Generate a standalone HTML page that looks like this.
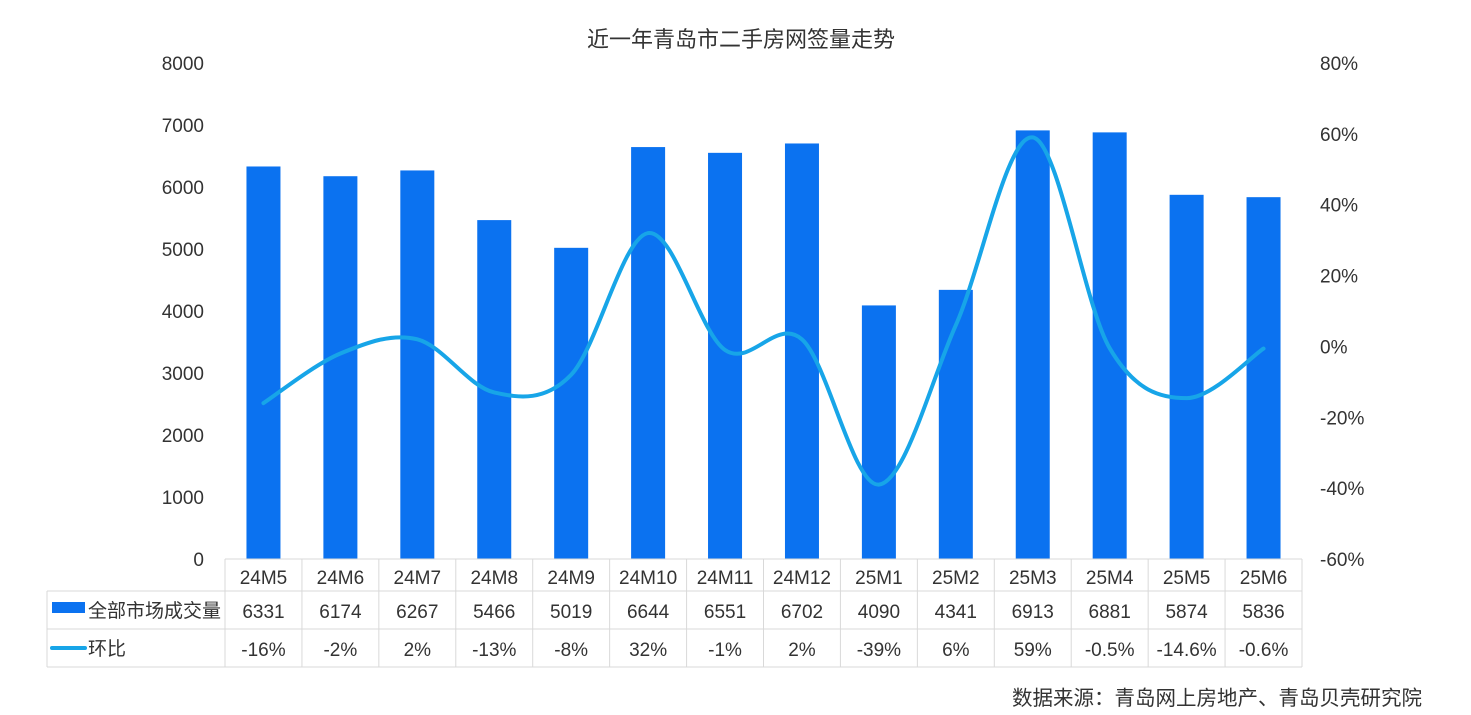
<!DOCTYPE html>
<html><head><meta charset="utf-8"><style>
body{margin:0;background:#fff;width:1471px;height:715px;overflow:hidden;font-family:"Liberation Sans","Noto Sans CJK SC",sans-serif;}
</style></head><body>
<svg id="c" width="1471" height="715" style="position:absolute;left:0;top:0" font-family="Liberation Sans, Noto Sans CJK SC, sans-serif">
<text x="741" y="47" text-anchor="middle" font-size="22" fill="#333">近一年青岛市二手房网签量走势</text>
<text x="1422" y="705" text-anchor="end" font-size="20.5" fill="#333">数据来源：青岛网上房地产、青岛贝壳研究院</text>
</svg>
<script>
const categories=["24M5","24M6","24M7","24M8","24M9","24M10","24M11","24M12","25M1","25M2","25M3","25M4","25M5","25M6"];
const volumes=[6331,6174,6267,5466,5019,6644,6551,6702,4090,4341,6913,6881,5874,5836];
const changes=[-16,-2,2,-13,-8,32,-1,2,-39,6,59,-0.5,-14.6,-0.6];
const changeLabels=["-16%","-2%","2%","-13%","-8%","32%","-1%","2%","-39%","6%","59%","-0.5%","-14.6%","-0.6%"];
const leftTicks=[0,1000,2000,3000,4000,5000,6000,7000,8000];
const rightTicks=[-60,-40,-20,0,20,40,60,80];
const NS="http://www.w3.org/2000/svg";
const svg=document.getElementById('c');
const X0=225,X1=1302,Y0=559,Y1=63;
const bw=(X1-X0)/categories.length;
const xc=i=>X0+bw*(i+0.5);
const yL=v=>Y0-(v/8000)*(Y0-Y1);
const yR=v=>Y0-((v+60)/140)*(Y0-Y1);
function mk(t,a,txt){const e=document.createElementNS(NS,t);for(const k in a)e.setAttribute(k,a[k]);if(txt!==undefined)e.textContent=txt;svg.appendChild(e);return e;}
leftTicks.forEach(v=>{const e=mk('text',{x:204,y:yL(v)+7,'text-anchor':'end','font-size':19,fill:'#333'},v);

});
rightTicks.forEach(v=>{const e=mk('text',{x:1320,y:yR(v)+7,'font-size':19,fill:'#333'},v+'%');

});
volumes.forEach((v,i)=>{const e=mk('rect',{x:xc(i)-17,y:yL(v),width:34,height:Y0-yL(v),fill:'#0b72f0'});

});
const pts=changes.map((v,i)=>[xc(i),yR(v)]);
let d='M'+pts[0][0]+','+pts[0][1];
for(let i=0;i<pts.length-1;i++){const p0=pts[Math.max(i-1,0)],p1=pts[i],p2=pts[i+1],p3=pts[Math.min(i+2,pts.length-1)];
const c1=[p1[0]+(p2[0]-p0[0])/6,p1[1]+(p2[1]-p0[1])/6],c2=[p2[0]-(p3[0]-p1[0])/6,p2[1]-(p3[1]-p1[1])/6];
d+=' C'+c1+' '+c2+' '+p2;}
const ln=mk('path',{d:d,fill:'none',stroke:'#17a5e8','stroke-width':4,'stroke-linecap':'round'});


const g='#d9d9d9';
const rows=[559,591,629,667];
mk('line',{x1:X0,y1:rows[0],x2:X1,y2:rows[0],stroke:g});
[1,2,3].forEach(r=>mk('line',{x1:47,y1:rows[r],x2:X1,y2:rows[r],stroke:g}));
mk('line',{x1:47,y1:rows[1],x2:47,y2:rows[3],stroke:g});
for(let i=0;i<=categories.length;i++)mk('line',{x1:X0+bw*i,y1:rows[0],x2:X0+bw*i,y2:rows[3],stroke:g});
categories.forEach((c,i)=>{
let e=mk('text',{x:xc(i),y:584,'text-anchor':'middle','font-size':19,fill:'#333'},c);


e=mk('text',{x:xc(i),y:618,'text-anchor':'middle','font-size':19,fill:'#333'},volumes[i]);


e=mk('text',{x:xc(i),y:656,'text-anchor':'middle','font-size':19,fill:'#333'},changeLabels[i]);

});
let e=mk('rect',{x:52,y:602,width:33,height:11,fill:'#0b72f0'});


e=mk('text',{x:88,y:617,'font-size':19,fill:'#333'},'全部市场成交量');


e=mk('line',{x1:52,y1:648,x2:85,y2:648,stroke:'#17a5e8','stroke-width':4,'stroke-linecap':'round'});


e=mk('text',{x:88,y:655,'font-size':19,fill:'#333'},'环比');


</script>
</body></html>
